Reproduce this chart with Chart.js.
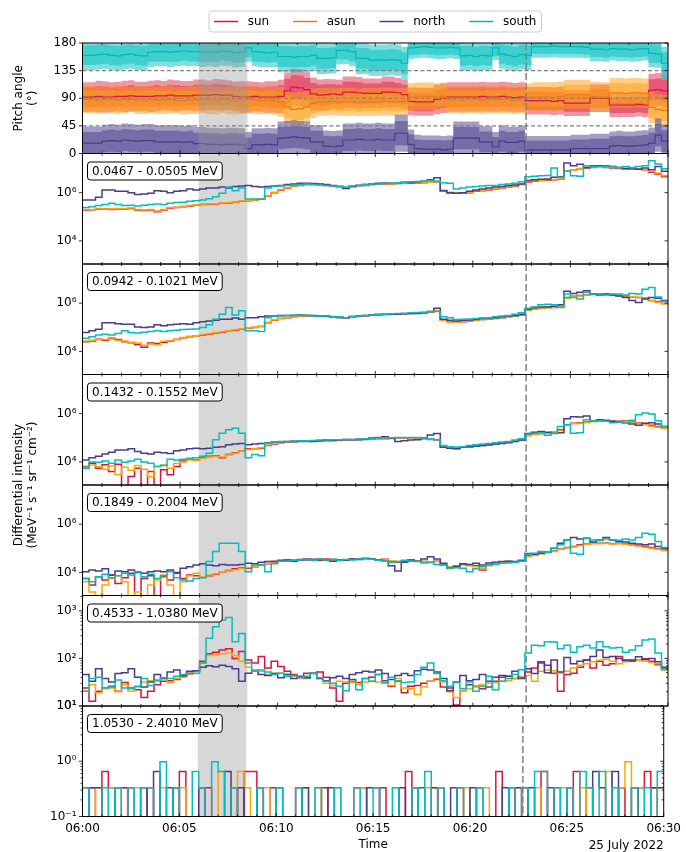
<!DOCTYPE html>
<html>
<head>
<meta charset="utf-8">
<script src="https://cdn.jsdelivr.net/npm/chart.js@4.4.1/dist/chart.umd.min.js"></script>
<style>
  html, body { margin: 0; padding: 0; background: #fff; }
  #wrap { position: relative; width: 686px; height: 852px; }
  #wrap canvas { position: absolute; left: 0; top: 0; }
</style>
</head>
<body>
<div id="wrap"></div>
<script>
// ---- data (20 s bins from 06:00 to 06:30) ----
const binMinutes = 20 / 60;
const eventStart = 5.95, eventEnd = 8.45;   // grey interval, minutes after 06:00
const markerTime = 22.73;                    // dashed line, minutes after 06:00
const timeTicks = [0, 5, 10, 15, 20, 25, 30];
const timeLabels = ['06:00', '06:05', '06:10', '06:15', '06:20', '06:25', '06:30'];
const dateLabel = '25 July 2022';
const sectors = ['sun', 'asun', 'north', 'south'];
const channels = ['0.0467 - 0.0505 MeV', '0.0942 - 0.1021 MeV', '0.1432 - 0.1552 MeV',
                  '0.1849 - 0.2004 MeV', '0.4533 - 1.0380 MeV', '1.0530 - 2.4010 MeV'];
const pitchTicks = [0, 45, 90, 135, 180];
const pitchRefLines = [45, 90, 135];
const lowTicks = [1e4, 1e6];
const lowRange = [1.1e3, 4.2e7];
const midTicks = [1e1, 1e2, 1e3];
const midMinor = [20, 30, 40, 50, 60, 70, 80, 90, 200, 300, 400, 500, 600, 700, 800, 900, 2000];
const midRange = [10, 2.1e3];
const highTicks = [0.1, 1, 10];
const highMinor = [0.2, 0.3, 0.4, 0.5, 0.6, 0.7, 0.8, 0.9, 2, 3, 4, 5, 6, 7, 8, 9];
const highRange = [0.1, 10];

// pitch angle: mean and spread (deg)
const paSunMean = [92,92,93,92,92,93,93,94,93,93, 93,94,94,95,94,94,94,95,95,95, 96,95,95,93,92,92,93,92,92,92,
  93,102,108,107,104,97,95,96,97,96, 100,100,99,98,98,98,100,100,99,96, 85,84,84,84,88,90,92,92,92,92,
  92,93,92,92,93,92,91,92,86,86, 86,86,85,86,82,82,82,82,90,90, 90,79,79,79,79,80,79,103,104,102];
const paSunSig = [16,16,17,17,16,16,17,17,16,16, 17,17,16,17,17,16,16,17,17,16, 17,17,16,16,17,17,16,16,17,17,
  18,20,20,20,19,18,17,17,16,16, 17,17,17,16,16,16,17,17,16,16, 15,15,15,15,16,16,16,16,16,16,
  16,16,16,16,16,16,16,16,15,15, 15,15,15,15,14,14,14,14,15,15, 15,13,13,13,13,13,13,18,18,18];
const paAsunMean = [88,88,87,88,88,87,88,88,87,87, 88,87,87,88,87,86,87,87,88,87, 86,87,87,86,87,88,87,86,87,86,
  84,76,72,73,76,82,84,84,85,84, 84,84,83,84,84,84,85,84,84,85, 92,93,93,93,92,93,88,88,87,88,
  88,87,88,88,88,88,87,88,91,92, 92,92,92,93,96,96,96,96,93,92, 92,99,99,98,99,99,98,75,72,70];
const paAsunSig = [15,15,15,14,15,15,15,14,15,15, 15,15,15,15,14,15,15,15,15,15, 15,14,15,15,15,15,15,15,15,15,
  16,18,18,18,17,16,15,15,15,15, 15,15,15,15,15,15,15,15,15,15, 15,15,15,15,15,15,15,15,15,15,
  15,15,15,15,15,15,15,15,15,16, 16,16,16,16,16,16,16,16,16,16, 16,16,16,16,16,16,16,17,17,17];
const paNorthMean = [17,17,17,20,21,20,22,21,20,21, 21,19,19,19,19,18,19,16,16,15, 15,14,15,15,14,8,14,14,15,14,
  25,26,27,26,25,19,19,12,11,12, 22,22,23,22,22,23,22,22,33,33, 15,8,7,7,7,6,7,25,25,25,
  25,19,19,11,20,18,18,20,6,6, 6,6,6,6,6,8,8,8,8,8, 8,12,13,12,12,13,14,17,30,20];
const paNorthSig = [18,18,18,18,18,18,18,18,18,18, 18,18,18,18,18,18,18,18,18,18, 18,18,18,18,18,18,18,18,18,18,
  18,18,18,18,18,18,18,17,17,17, 18,18,18,18,18,18,18,18,20,20, 16,15,15,15,15,15,15,18,18,18,
  18,17,17,16,17,17,17,17,15,15, 15,15,15,15,15,15,15,15,16,16, 16,16,16,16,16,16,16,17,18,18];
const paSouthMean = [160,160,161,162,160,159,161,162,160,159, 165,166,166,165,166,167,166,166,165,166,
  165,167,166,164,165,172,166,165,164,165, 158,158,157,158,158,160,155,155,156,168,
  168,166,155,155,152,152,152,153,152,147, 172,173,174,173,172,172,173,172,159,160,
  158,160,159,172,162,160,158,161,160,174, 174,174,175,174,174,174,174,173,170,170,
  169,171,170,170,169,170,171,163,162,147];
const paSouthSig = [16,16,16,16,16,16,16,16,16,16, 16,16,16,16,16,16,16,16,16,16, 16,16,16,16,16,15,16,16,16,16,
  17,17,17,17,17,17,17,17,17,15, 15,16,17,17,17,17,17,17,17,18, 12,12,12,12,12,12,12,12,16,16,
  16,16,16,13,16,16,16,16,16,12, 12,12,12,12,12,12,12,12,13,13, 13,13,13,13,13,13,13,15,15,18];

// differential intensity, channel 1 (0.0467 - 0.0505 MeV)
const ch1Sun = [1.9e5,1.95e5,2.1e5,2.1e5,2.0e5,2.1e5,2.1e5,2.2e5,1.9e5,1.8e5, 1.9e5,1.6e5,1.9e5,2.3e5,2.45e5,2.6e5,2.8e5,3.0e5,3.2e5,3.4e5,
  3.4e5,3.6e5,3.6e5,4.0e5,4.4e5,4.6e5,4.9e5,5.3e5,7.3e5,1.0e6, 1.3e6,1.55e6,1.9e6,2.0e6,2.2e6,2.2e6,2.2e6,2.0e6,1.9e6,1.8e6,
  1.55e6,1.8e6,2.0e6,2.0e6,2.2e6,2.3e6,2.3e6,2.3e6,2.4e6,2.45e6, 2.45e6,2.5e6,2.6e6,2.7e6,2.8e6,1.2e6,1.0e6,9.4e5,9.7e5,1.0e6,
  1.15e6,1.2e6,1.3e6,1.4e6,1.55e6,1.7e6,1.9e6,2.2e6,2.7e6,3.0e6, 3.2e6,3.3e6,3.4e6,3.6e6,7.7e6,8.8e6,9.7e6,1.05e7,1.1e7,1.2e7,
  1.1e7,1.05e7,1.0e7,1.0e7,9.4e6,9.7e6,8.8e6,7.0e6,6.0e6,4.6e6];
const ch1Asun = [2.0e5,2.0e5,2.2e5,2.1e5,2.1e5,2.2e5,2.2e5,2.3e5,2.0e5,1.9e5, 2.0e5,1.75e5,2.0e5,2.4e5,2.5e5,2.7e5,2.9e5,3.1e5,3.3e5,3.5e5,
  3.5e5,3.7e5,3.8e5,4.1e5,4.5e5,4.8e5,5.0e5,5.5e5,7.5e5,1.05e6, 1.35e6,1.6e6,1.9e6,2.1e6,2.2e6,2.3e6,2.2e6,2.1e6,1.9e6,1.8e6,
  1.6e6,1.8e6,2.0e6,2.1e6,2.2e6,2.3e6,2.35e6,2.3e6,2.4e6,2.5e6, 2.5e6,2.55e6,2.6e6,2.7e6,2.9e6,1.25e6,1.05e6,9.8e5,1.0e6,1.05e6,
  1.2e6,1.25e6,1.35e6,1.45e6,1.6e6,1.75e6,1.95e6,2.25e6,2.8e6,3.1e6, 3.3e6,3.4e6,3.5e6,3.7e6,8.0e6,9.0e6,1.0e7,1.1e7,1.15e7,1.2e7,
  1.15e7,1.1e7,1.05e7,1.0e7,9.8e6,9.5e6,9.0e6,7.5e6,6.5e6,5.0e6];
const ch1North = [4.9e5,4.9e5,6.5e5,1.3e6,1.3e6,1.15e6,1.15e6,1.0e6,8.3e5,8.8e5, 9.4e5,1.2e6,1.15e6,1.0e6,1.15e6,1.2e6,1.4e6,1.3e6,1.4e6,1.55e6,
  1.55e6,1.7e6,1.55e6,1.8e6,1.9e6,2.0e6,1.8e6,1.7e6,1.8e6,1.9e6, 2.0e6,2.2e6,2.3e6,2.45e6,2.45e6,2.4e6,2.3e6,2.2e6,2.0e6,1.8e6,
  1.5e6,1.8e6,2.0e6,2.2e6,2.3e6,2.45e6,2.5e6,2.45e6,2.6e6,2.7e6, 2.6e6,2.8e6,3.0e6,3.4e6,4.1e6,1.2e6,1.0e6,9.4e5,1.0e6,1.15e6,
  1.3e6,1.4e6,1.55e6,1.7e6,1.8e6,2.0e6,2.1e6,2.3e6,3.2e6,3.4e6, 3.6e6,3.7e6,4.4e6,4.6e6,1.7e7,1.3e7,1.5e7,1.1e7,1.3e7,1.3e7,
  1.3e7,1.2e7,1.1e7,9.7e6,1.05e7,9.4e6,1.05e7,8.8e6,1.2e7,7.7e6];
const ch1South = [2.45e5,2.6e5,2.9e5,3.2e5,3.6e5,3.2e5,2.9e5,3.0e5,2.8e5,3.0e5, 3.2e5,3.4e5,3.2e5,3.6e5,3.9e5,4.0e5,4.4e5,4.6e5,4.9e5,5.6e5,
  6.8e5,9.4e5,1.7e6,1.2e6,1.55e6,5.4e5,5.4e5,5.3e5,1.55e6,1.8e6, 1.9e6,2.0e6,2.1e6,2.2e6,2.3e6,2.2e6,2.1e6,2.0e6,1.9e6,1.8e6,
  1.7e6,1.9e6,2.0e6,2.2e6,2.3e6,2.3e6,2.45e6,2.45e6,2.6e6,2.7e6, 2.8e6,2.9e6,3.0e6,3.2e6,3.0e6,2.6e6,2.45e6,1.4e6,1.55e6,1.7e6,
  1.8e6,1.9e6,2.0e6,2.0e6,2.2e6,2.3e6,2.45e6,2.8e6,4.6e6,4.8e6, 5.0e6,5.2e6,1.05e7,4.4e6,7.7e6,5.0e6,4.8e6,1.3e7,1.2e7,1.2e7,
  1.25e7,1.2e7,1.1e7,1.2e7,1.1e7,1.2e7,1.3e7,2.1e7,1.55e7,9.7e6];

// channel 2 (0.0942 - 0.1021 MeV)
const ch2Sun = [2.5e4,2.7e4,3.2e4,2.9e4,3.5e4,3.1e4,2.5e4,2.3e4,1.95e4,1.5e4, 2.2e4,2.1e4,2.4e4,2.7e4,3.1e4,3.7e4,4.0e4,4.4e4,4.8e4,5.1e4,
  5.8e4,6.2e4,7.1e4,7.5e4,8.3e4,9.1e4,9.8e4,1.07e5,1.55e5,1.96e5, 2.3e5,2.5e5,2.7e5,2.9e5,2.95e5,2.95e5,2.9e5,2.8e5,2.7e5,2.5e5,
  2.4e5,2.7e5,2.9e5,2.95e5,3.16e5,3.25e5,3.4e5,3.5e5,3.5e5,3.6e5, 3.7e5,3.8e5,4.0e5,4.2e5,4.8e5,1.96e5,1.7e5,1.6e5,1.7e5,1.8e5,
  1.96e5,2.1e5,2.15e5,2.3e5,2.5e5,2.7e5,2.9e5,3.25e5,5.1e5,5.8e5, 6.2e5,6.6e5,6.6e5,7.5e5,1.7e6,1.95e6,2.1e6,2.2e6,2.4e6,2.4e6,
  2.4e6,2.2e6,2.1e6,1.95e6,1.8e6,1.7e6,1.6e6,1.3e6,1.17e6,9.7e5];
const ch2Asun = [2.7e4,2.9e4,3.0e4,3.1e4,3.3e4,2.8e4,2.7e4,2.4e4,2.2e4,1.8e4, 2.0e4,1.9e4,2.6e4,2.8e4,3.2e4,3.8e4,4.2e4,4.5e4,5.0e4,5.4e4,
  6.0e4,6.5e4,7.3e4,7.8e4,8.5e4,9.4e4,1.0e5,1.1e5,1.6e5,2.0e5, 2.35e5,2.55e5,2.75e5,2.9e5,3.0e5,3.0e5,2.9e5,2.85e5,2.75e5,2.6e5,
  2.5e5,2.7e5,2.9e5,3.0e5,3.2e5,3.3e5,3.4e5,3.5e5,3.6e5,3.7e5, 3.8e5,3.9e5,4.1e5,4.3e5,4.9e5,1.9e5,1.65e5,1.6e5,1.75e5,1.85e5,
  2.0e5,2.1e5,2.2e5,2.35e5,2.55e5,2.75e5,2.95e5,3.3e5,5.0e5,5.6e5, 6.0e5,6.4e5,6.8e5,7.4e5,1.6e6,1.85e6,2.0e6,2.2e6,2.3e6,2.35e6,
  2.3e6,2.2e6,2.1e6,2.0e6,1.85e6,1.7e6,1.55e6,1.25e6,1.1e6,9.5e5];
const ch2North = [6.0e4,7.1e4,8.3e4,1.55e5,1.55e5,1.4e5,1.33e5,1.33e5,1.03e5,9.8e4, 1.03e5,1.26e5,1.15e5,1.26e5,1.33e5,1.4e5,1.33e5,1.55e5,1.7e5,1.8e5,
  1.96e5,2.15e5,2.15e5,2.4e5,2.15e5,2.5e5,2.5e5,2.7e5,2.9e5,2.95e5, 3.1e5,3.1e5,3.16e5,3.25e5,3.16e5,3.1e5,2.95e5,2.9e5,2.7e5,2.7e5,
  2.5e5,2.8e5,2.95e5,3.1e5,3.25e5,3.4e5,3.5e5,3.5e5,3.5e5,3.6e5, 3.7e5,3.7e5,4.0e5,4.5e5,6.2e5,2.15e5,1.96e5,1.8e5,1.96e5,2.0e5,
  2.15e5,2.3e5,2.4e5,2.5e5,2.7e5,2.9e5,3.1e5,3.5e5,5.6e5,6.6e5, 7.0e5,7.0e5,7.5e5,8.5e5,3.1e6,2.5e6,2.8e6,3.3e6,2.4e6,2.2e6,
  2.4e6,2.2e6,2.0e6,1.7e6,1.3e6,1.07e6,1.5e6,1.7e6,1.6e6,1.3e6];
const ch2South = [3.5e4,4.0e4,4.8e4,5.1e4,4.8e4,5.5e4,7.1e4,6.0e4,5.8e4,6.2e4, 6.6e4,7.1e4,6.6e4,7.1e4,7.5e4,8.0e4,8.3e4,8.5e4,9.8e4,1.26e5,
  2.15e5,3.5e5,6.6e5,3.25e5,4.8e5,7.1e4,7.1e4,6.6e4,2.5e5,2.9e5, 2.95e5,3.1e5,3.1e5,3.16e5,3.1e5,2.95e5,2.9e5,2.9e5,2.8e5,2.7e5,
  2.5e5,2.8e5,2.95e5,3.1e5,3.25e5,3.5e5,3.5e5,3.6e5,3.7e5,3.8e5, 4.0e5,4.1e5,4.2e5,4.5e5,4.5e5,2.7e5,2.5e5,2.1e5,2.15e5,2.2e5,
  2.3e5,2.4e5,2.5e5,2.7e5,2.9e5,3.1e5,3.5e5,4.0e5,6.2e5,7.0e5, 8.5e5,9.1e5,8.5e5,6.6e5,2.4e6,1.7e6,1.5e6,2.8e6,2.4e6,2.4e6,
  2.2e6,2.4e6,2.4e6,2.2e6,2.5e6,2.4e6,3.8e6,4.5e6,1.8e6,1.2e6];

// channel 3 (0.1432 - 0.1552 MeV)
const ch3Sun = [6.5e3,8.8e3,5.5e3,7.6e3,4.0e3,8.0e3,7.0e2,2.5e3,5.5e3,7.0e2, 4.0e3,7.0e2,4.7e3,2.9e3,6.5e3,1.1e4,1.3e4,1.2e4,1.5e4,1.7e4,
  1.8e4,1.5e4,2.0e4,2.4e4,2.9e4,3.5e4,3.5e4,3.7e4,4.8e4,5.5e4, 6.2e4,6.6e4,6.8e4,7.0e4,7.0e4,7.3e4,7.5e4,7.5e4,7.7e4,8.0e4,
  8.0e4,8.3e4,8.3e4,8.5e4,8.8e4,9.1e4,9.1e4,9.4e4,9.7e4,9.7e4, 1.0e5,9.7e4,9.1e4,8.5e4,8.3e4,4.2e4,3.7e4,3.6e4,4.0e4,4.2e4,
  4.5e4,4.8e4,5.1e4,5.5e4,6.2e4,6.6e4,7.5e4,8.3e4,1.26e5,1.4e5, 1.5e5,1.55e5,1.7e5,2.15e5,3.5e5,4.0e5,4.2e5,4.5e5,4.8e5,5.1e5,
  5.3e5,4.8e5,4.8e5,5.1e5,4.5e5,4.1e5,3.7e5,3.3e5,2.95e5,2.5e5];
const ch3Asun = [6.0e3,7.5e3,6.5e3,5.0e3,6.8e3,3.0e3,6.0e3,4.5e3,7.0e3,5.0e3, 2.5e3,6.5e3,7.5e3,5.5e3,8.5e3,1.0e4,1.2e4,1.15e4,1.4e4,1.6e4,
  1.7e4,1.6e4,2.1e4,2.3e4,2.8e4,3.3e4,3.6e4,3.9e4,5.0e4,5.8e4, 6.4e4,6.8e4,7.0e4,7.2e4,7.3e4,7.5e4,7.6e4,7.8e4,8.0e4,8.0e4,
  8.2e4,8.4e4,8.6e4,8.8e4,9.0e4,9.2e4,9.4e4,9.6e4,9.8e4,1.0e5, 1.0e5,9.8e4,9.4e4,8.8e4,8.5e4,4.4e4,3.9e4,3.7e4,4.1e4,4.4e4,
  4.6e4,4.9e4,5.3e4,5.7e4,6.3e4,6.8e4,7.6e4,8.5e4,1.2e5,1.35e5, 1.45e5,1.5e5,1.65e5,2.0e5,3.3e5,3.8e5,4.0e5,4.3e5,4.6e5,4.9e5,
  5.0e5,4.7e5,4.6e5,4.8e5,4.3e5,3.9e5,3.5e5,3.0e5,2.7e5,2.4e5];
const ch3North = [1.2e4,1.5e4,1.7e4,2.1e4,2.5e4,3.1e4,3.1e4,3.5e4,2.7e4,2.3e4, 2.1e4,2.5e4,2.4e4,2.2e4,2.9e4,3.1e4,3.5e4,3.7e4,3.5e4,3.7e4,
  4.0e4,4.2e4,5.1e4,5.5e4,5.8e4,5.1e4,5.5e4,5.8e4,6.2e4,6.6e4, 6.8e4,7.0e4,7.0e4,7.3e4,7.5e4,7.0e4,7.5e4,8.0e4,7.7e4,8.0e4,
  8.5e4,8.3e4,8.5e4,8.8e4,9.7e4,1.03e5,1.1e5,9.7e4,7.0e4,7.5e4, 8.0e4,8.3e4,9.7e4,1.3e5,1.5e5,4.0e4,3.7e4,3.5e4,4.0e4,4.2e4,
  4.5e4,4.8e4,5.1e4,5.5e4,5.8e4,6.2e4,7.0e4,8.0e4,1.5e5,1.7e5, 1.8e5,1.7e5,1.5e5,1.6e5,6.2e5,7.5e5,7.2e5,8.0e5,5.1e5,5.6e5,
  5.1e5,4.8e5,4.5e5,4.2e5,3.7e5,3.3e5,4.0e5,4.2e5,3.7e5,2.95e5];
const ch3South = [5.5e3,1.0e4,9.6e3,1.1e4,8.8e3,1.2e4,9.6e3,1.1e4,1.3e4,1.0e4, 8.8e3,6.5e3,7.0e3,1.3e4,1.2e4,1.3e4,1.4e4,1.5e4,1.7e4,2.3e4,
  8.3e4,1.55e5,2.15e5,2.5e5,1.55e5,1.5e4,2.0e4,1.8e4,6.0e4,6.6e4, 7.0e4,7.0e4,7.3e4,7.5e4,7.5e4,7.7e4,8.0e4,8.0e4,8.3e4,8.3e4,
  8.5e4,8.5e4,8.8e4,9.1e4,9.4e4,9.7e4,1.0e5,1.0e5,1.03e5,1.03e5, 1.03e5,1.03e5,9.7e4,9.1e4,8.3e4,4.8e4,4.2e4,4.1e4,4.2e4,4.8e4,
  5.1e4,5.5e4,5.8e4,6.2e4,6.6e4,7.0e4,8.0e4,9.1e4,1.4e5,1.55e5, 1.6e5,1.26e5,1.55e5,2.95e5,3.5e5,1.55e5,1.6e5,5.6e5,5.1e5,5.1e5,
  4.8e5,4.2e5,4.5e5,4.2e5,5.3e5,9.1e5,1.07e6,9.7e5,5.1e5,2.95e5];

// channel 4 (0.1849 - 0.2004 MeV)
const ch4Sun = [5.6e3,3.0e3,6.6e3,4.8e3,7.7e3,3.5e3,6.0e3,9.1e3,5.0e2,5.6e3, 7.2e3,5.0e2,6.6e3,4.8e3,9.1e3,5.6e3,7.7e3,7.2e3,6.6e3,7.2e3,
  8.3e3,1.07e4,1.2e4,1.4e4,1.55e4,1.5e4,1.7e4,2.0e4,2.3e4,2.6e4, 2.9e4,3.2e4,3.25e4,3.4e4,3.25e4,3.5e4,3.2e4,3.6e4,3.4e4,3.2e4,
  3.25e4,3.6e4,3.5e4,3.8e4,3.6e4,3.25e4,3.5e4,2.8e4,2.6e4,2.9e4, 3.2e4,2.9e4,2.8e4,2.6e4,2.9e4,2.0e4,1.55e4,1.9e4,2.1e4,2.0e4,
  1.9e4,1.25e4,2.0e4,2.4e4,2.6e4,2.8e4,2.6e4,2.9e4,4.9e4,5.3e4, 6.2e4,6.8e4,7.7e4,9.4e4,1.07e5,1.17e5,1.4e5,1.5e5,1.6e5,1.6e5,
  1.65e5,1.55e5,1.6e5,1.5e5,1.4e5,1.3e5,1.17e5,1.07e5,9.4e4,8.5e4];
const ch4Asun = [4.1e3,1.55e3,5.0e2,3.0e3,5.6e3,7.2e3,4.1e3,5.0e2,1.55e3,5.0e2, 3.0e3,4.8e3,7.7e3,3.0e3,5.0e2,4.1e3,7.2e3,9.1e3,6.6e3,7.7e3,
  8.8e3,1.07e4,1.15e4,1.3e4,1.5e4,1.6e4,1.8e4,2.1e4,2.4e4,2.7e4, 3.0e4,3.1e4,3.3e4,3.2e4,3.4e4,3.3e4,3.5e4,3.4e4,3.3e4,3.1e4,
  3.3e4,3.5e4,3.6e4,3.7e4,3.5e4,3.3e4,3.4e4,3.0e4,2.8e4,3.0e4, 3.1e4,3.0e4,2.9e4,2.7e4,2.8e4,2.1e4,1.7e4,1.8e4,2.0e4,1.9e4,
  1.7e4,1.4e4,1.9e4,2.3e4,2.5e4,2.7e4,2.7e4,3.0e4,4.6e4,5.0e4, 5.8e4,6.5e4,7.4e4,9.0e4,1.03e5,1.12e5,1.3e5,1.45e5,1.55e5,1.55e5,
  1.6e5,1.5e5,1.55e5,1.45e5,1.35e5,1.25e5,1.1e5,1.0e5,9.0e4,8.0e4];
const ch4North = [1.07e4,1.25e4,1.15e4,1.4e4,7.7e3,1.15e4,1.07e4,1.25e4,1.0e4,9.1e3, 1.07e4,1.15e4,1.07e4,1.25e4,1.0e4,1.5e4,1.7e4,2.0e4,2.3e4,2.0e4,
  1.9e4,2.1e4,2.0e4,2.0e4,2.1e4,2.4e4,2.3e4,2.6e4,2.8e4,2.9e4, 3.2e4,3.25e4,2.9e4,3.25e4,3.6e4,3.2e4,3.5e4,3.25e4,2.9e4,3.25e4,
  3.2e4,3.6e4,3.4e4,3.8e4,3.6e4,3.25e4,2.9e4,1.9e4,1.15e4,2.6e4, 3.25e4,2.9e4,3.6e4,4.5e4,3.6e4,2.4e4,1.5e4,1.7e4,2.3e4,2.1e4,
  2.4e4,2.0e4,2.45e4,2.6e4,2.8e4,2.9e4,2.8e4,3.2e4,6.0e4,5.6e4, 6.2e4,6.8e4,1.0e5,1.6e5,2.2e5,2.8e5,2.4e5,2.6e5,1.8e5,2.2e5,
  2.8e5,2.2e5,1.9e5,1.8e5,1.6e5,1.5e5,1.4e5,1.5e5,1.17e5,1.0e5];
const ch4South = [5.6e3,4.1e3,6.6e3,8.3e3,6.0e3,7.2e3,9.1e3,7.7e3,1.07e4,6.6e3, 8.3e3,5.6e3,7.2e3,1.07e4,6.0e3,4.8e3,4.4e3,5.6e3,6.0e3,2.8e4,
  7.3e4,1.6e5,1.6e5,1.6e5,7.3e4,1.07e4,2.0e4,2.0e4,1.07e4,2.3e4, 2.9e4,2.9e4,3.2e4,3.25e4,3.4e4,3.2e4,3.6e4,3.25e4,3.5e4,3.2e4,
  3.4e4,3.25e4,3.6e4,3.8e4,3.5e4,3.2e4,2.9e4,2.6e4,2.8e4,3.2e4, 2.9e4,2.8e4,2.45e4,2.6e4,2.1e4,2.0e4,1.5e4,1.55e4,1.5e4,1.07e4,
  1.4e4,1.7e4,2.0e4,2.1e4,2.4e4,2.45e4,2.6e4,2.9e4,5.6e4,6.2e4, 7.3e4,6.8e4,1.0e5,1.4e5,2.2e5,6.2e4,5.6e4,2.6e5,2.2e5,2.15e5,
  2.4e5,2.2e5,2.15e5,2.4e5,2.2e5,2.8e5,4.2e5,3.8e5,1.9e5,1.07e5];

// channel 5 (0.4533 - 1.0380 MeV)
const ch5Sun = [24,12.6,20.5,24,26,20.5,31,24,22,15, 20.5,28,33,34,36,42,49,55,87,125, 135,150,160,100,140,93,80,110,63,87,
  68,54,46,39,49,48,52,40,24,12.6, 30,36,31,38,40,46,34,26,33,19, 26,27,30,33,36,25,24,10.5,20.5,28,
  26,23,25,33,40,42,38,40,52,63, 80,72,49,20.5,46,49,65,93,63,87, 72,77,110,93,87,92,98,87,74,58];
const ch5Asun = [20.5,28,19,23,24,20,28,20.5,25,32, 34,36,38,31,38,40,46,54,80,115, 120,125,130,115,87,65,58,54,46,48,
  49,46,42,40,38,48,38,30,27,33, 32,31,28,32,33,32,30,27,38,24, 23,17.5,25,33,38,32,20,15,20.5,23,
  25,28,30,31,33,34,38,41,44,33, 54,57,55,49,54,63,72,77,85,92, 95,87,77,85,93,90,87,82,77,58];
const ch5North = [46,33,61,38,32,48,50,61,40,25, 32,46,38,52,57,44,54,55,65,70, 67,72,68,61,33,49,54,46,44,48,
  39,46,38,42,39,49,38,34,39,42, 38,46,50,54,52,57,48,36,44,48, 44,55,59,57,52,38,21,32,44,34,
  36,46,33,40,44,42,54,38,61,48, 85,50,93,52,105,77,87,93,110,150, 105,110,100,90,93,108,95,100,85,65];
const ch5South = [20.5,38,40,24,25,35,24,23,26,38, 27,34,39,38,42,46,48,49,80,265, 465,640,720,225,335,80,54,57,52,46,
  49,42,44,40,42,49,39,33,30,26, 21,33,22,38,33,46,31,40,34,31, 32,46,65,80,48,34,26,31,23,32,
  20.5,26,42,22,33,38,46,58,130,190, 185,225,220,160,190,135,175,190,165,225, 175,165,170,135,150,185,245,255,130,61];

// channel 6 (1.0530 - 2.4010 MeV), 0 = no counts
const ch6Sun = [0.33,0.33,0,0.65,0.33,0,0,0.33,0,0, 0.33,0,0,0.33,0,0.65,0,0,0,0.33, 0,0,0,0.33,0,0.65,0.65,0,0,0.33,
  0,0,0,0.33,0,0,0,0.33,0,0, 0,0,0.33,0.33,0,0,0.33,0,0,0, 0.65,0,0.33,0,0,0.33,0,0,0.33,0,
  0,0.33,0,0,0.65,0,0.33,0,0.33,0, 0,0.65,0,0.33,0,0,0.65,0,0.33,0, 0,0,0,0.33,0,0,0.33,0.65,0.33,0];
const ch6Asun = [0,0,0.33,0,0.33,0,0.33,0,0.33,0, 0,0,0.33,0,0,0.33,0,0,0.33,0, 0,0.65,0,0,0.65,0.33,0,0,0.33,0,
  0,0,0,0,0.33,0,0.33,0,0,0.33, 0,0,0,0.33,0,0,0,0,0.33,0, 0,0,0,0.33,0.33,0,0,0,0,0.33,
  0,0,0.33,0,0,0,0,0.33,0,0, 0.33,0,0,0,0.33,0,0,0.33,0,0, 0,0.65,0,0.33,0.98,0,0.33,0,0,0.33];
const ch6North = [0,0.33,0.33,0,0,0.33,0.33,0,0,0.33, 0,0.65,0,0,0.33,0,0,0,0.33,0, 0,0,0.65,0,0.33,0,0,0.33,0,0,
  0.33,0,0,0,0.33,0,0,0,0.33,0, 0,0,0,0,0.33,0.33,0,0,0,0.33, 0,0.33,0,0,0.33,0,0,0.33,0,0,
  0.33,0,0,0,0,0.33,0,0.33,0,0.33, 0,0,0.33,0,0,0.33,0,0,0,0.65, 0.33,0,0.65,0,0,0.33,0,0,0.33,0.33];
const ch6South = [0.33,0,0,0.33,0,0.33,0,0.33,0,0.33, 0.33,0,0.98,0,0.33,0,0,0.65,0.33,0, 0.98,0.65,0,0.33,0,0,0,0.33,0,0,
  0.33,0,0,0.33,0,0,0.33,0,0,0.33, 0,0,0.33,0,0,0.33,0,0,0.33,0, 0,0.33,0,0.65,0,0.33,0,0,0.33,0,
  0,0.33,0,0,0,0,0.33,0,0.33,0, 0.65,0.65,0,0.33,0,0.33,0,0.65,0.33,0, 0.65,0,0.33,0,0,0.33,0,0.33,0,0.65];

// ---- layout and style ----
const W = 686, H = 852;
const plotLeft = 82.5, plotRight = 668;
const edges = [43, 153.5, 264, 374.5, 485, 595.5, 706, 816.5];
const FONT = '12px "DejaVu Sans"';
const lineColors = {sun: '#dc143c', asun: '#ffa500', north: '#483d8b', south: '#00bfbf'};
const meanColors = {sun: '#dc143c', asun: '#f07818', north: '#483d8b', south: '#00b8b8'};
const bandColors = {sun: 'rgba(220,20,60,0.45)', asun: 'rgba(255,160,20,0.5)',
                    north: 'rgba(72,61,139,0.5)', south: 'rgba(0,191,191,0.5)'};

Chart.defaults.font.family = '"DejaVu Sans", sans-serif';
Chart.defaults.font.size = 12;
Chart.defaults.color = '#000';

function sup(n) {
  return String(n).split('').map(c => '⁻⁰¹²³⁴⁵⁶⁷⁸⁹'['-0123456789'.indexOf(c)]).join('');
}
function logLabel(v) { return '10' + sup(Math.round(Math.log10(v))); }

// values held over each bin (steps-post), closed at 06:30
function steps(values, floor) {
  const pts = values.map((v, i) => ({x: i * binMinutes, y: floor === undefined || v > 0 ? v : floor}));
  pts.push({x: values.length * binMinutes, y: pts[pts.length - 1].y});
  return pts;
}

function shade(chart) {
  const {ctx, chartArea: a, scales: {x}} = chart;
  const x0 = x.getPixelForValue(eventStart), x1 = x.getPixelForValue(eventEnd);
  ctx.save();
  ctx.fillStyle = 'rgba(150,150,150,0.38)';
  ctx.fillRect(x0, a.top, x1 - x0, a.bottom - a.top);
  ctx.restore();
}

function roundBox(ctx, x, y, w, h, r) {
  ctx.beginPath();
  if (ctx.roundRect) ctx.roundRect(x, y, w, h, r); else ctx.rect(x, y, w, h);
}

function drawLegend(chart) {
  const {ctx, chartArea: a} = chart;
  const items = chart.data.datasets.filter(d => d.legend);
  ctx.save();
  ctx.font = FONT;
  const handle = 24, gap = 9.6, col = 24, pad = 5;
  const widths = items.map(d => handle + gap + ctx.measureText(d.label).width);
  const total = widths.reduce((s, w) => s + w, 0) + col * (items.length - 1);
  let x = (a.left + a.right) / 2 - total / 2;
  roundBox(ctx, x - pad, 11, total + 2 * pad, 21, 3);
  ctx.fillStyle = 'rgba(255,255,255,0.8)';
  ctx.fill();
  ctx.strokeStyle = '#cccccc';
  ctx.lineWidth = 1;
  ctx.stroke();
  ctx.textBaseline = 'middle';
  items.forEach((d, i) => {
    ctx.strokeStyle = d.borderColor;
    ctx.lineWidth = 1.5;
    ctx.beginPath();
    ctx.moveTo(x, 21.5);
    ctx.lineTo(x + handle, 21.5);
    ctx.stroke();
    ctx.fillStyle = '#000';
    ctx.fillText(d.label, x + handle + gap, 21.5);
    x += widths[i] + col;
  });
  ctx.restore();
}

const decoPlugin = {
  id: 'deco',
  beforeDatasetsDraw(chart, args, opts) {
    if (!opts.shadeOnTop) shade(chart);
  },
  afterDatasetsDraw(chart, args, opts) {
    const {ctx, chartArea: a, scales: {x, y}} = chart;
    if (opts.shadeOnTop) shade(chart);
    ctx.save();
    ctx.strokeStyle = '#808080';
    if (opts.refLines) {
      ctx.lineWidth = 1.2;
      ctx.setLineDash([4, 2.5]);
      opts.refLines.forEach(v => {
        const py = y.getPixelForValue(v);
        ctx.beginPath(); ctx.moveTo(a.left, py); ctx.lineTo(a.right, py); ctx.stroke();
      });
    }
    const px = x.getPixelForValue(markerTime);
    ctx.lineWidth = 1.5;
    ctx.setLineDash([7, 3]);
    ctx.beginPath(); ctx.moveTo(px, a.top); ctx.lineTo(px, a.bottom); ctx.stroke();
    ctx.restore();
  },
  afterDraw(chart, args, opts) {
    const {ctx, chartArea: a, scales: {x, y}} = chart;
    ctx.save();
    // axes box
    ctx.strokeStyle = '#000';
    ctx.lineWidth = 1;
    ctx.strokeRect(a.left, a.top, a.right - a.left, a.bottom - a.top);
    // tick marks: x inward top and bottom, y outward left and inward right
    ctx.lineWidth = 0.8;
    ctx.beginPath();
    for (let m = 0; m <= 30; m++) {
      const px = x.getPixelForValue(m), len = m % 5 === 0 ? 3.5 : 2;
      ctx.moveTo(px, a.top); ctx.lineTo(px, a.top + len);
      ctx.moveTo(px, a.bottom); ctx.lineTo(px, a.bottom - len);
    }
    const yt = y.ticks.map(t => [t.value, 3.5]).concat((opts.minor || []).map(v => [v, 2]));
    yt.forEach(([v, len]) => {
      const py = y.getPixelForValue(v);
      ctx.moveTo(a.left, py); ctx.lineTo(a.left - len, py);
      ctx.moveTo(a.right, py); ctx.lineTo(a.right - len, py);
    });
    ctx.stroke();
    // energy label box
    ctx.font = FONT;
    if (opts.label) {
      const tw = ctx.measureText(opts.label).width;
      const bx = a.left + 5, by = a.top + 8.5, bw = tw + 9, bh = 18;
      roundBox(ctx, bx, by, bw, bh, 3);
      ctx.fillStyle = '#fff';
      ctx.fill();
      ctx.lineWidth = 1;
      ctx.stroke();
      ctx.fillStyle = '#000';
      ctx.textBaseline = 'middle';
      ctx.fillText(opts.label, bx + 4.5, by + bh / 2 + 0.5);
    }
    if (opts.legendBox) drawLegend(chart);
    if (opts.bottom) {
      ctx.fillStyle = '#000';
      ctx.textBaseline = 'middle';
      ctx.textAlign = 'right';
      ctx.fillText(dateLabel, a.right, 845.5);
      // shared y title of the intensity panels
      ctx.textAlign = 'center';
      ctx.translate(0, (edges[1] + edges[7]) / 2);
      ctx.rotate(-Math.PI / 2);
      ctx.fillText('Differential intensity', 0, 18.5);
      ctx.fillText('(MeV' + sup(-1) + ' s' + sup(-1) + ' sr' + sup(-1) + ' cm' + sup(-2) + ')', 0, 32.9);
    }
    ctx.restore();
  }
};

function xAxis(show) {
  return {
    type: 'linear', min: 0, max: 30, display: show,
    grid: {display: false, drawTicks: false}, border: {display: false},
    ticks: {padding: 5, autoSkip: false, maxRotation: 0, callback: (v, i) => timeLabels[i]},
    afterBuildTicks: s => { s.ticks = timeTicks.map(v => ({value: v})); },
    afterFit: s => { if (show) s.height = H - edges[7]; },
    title: {display: show, text: 'Time', padding: 0}
  };
}

function yAxis(type, range, ticks, fmt, title) {
  return {
    type: type, min: range[0], max: range[1], position: 'left',
    grid: {display: false, drawTicks: false}, border: {display: false},
    ticks: {padding: 6, autoSkip: false, callback: fmt},
    afterBuildTicks: s => { s.ticks = ticks.map(v => ({value: v})); },
    afterFit: s => { s.width = plotLeft; },
    title: title || {display: false}
  };
}

const wrap = document.getElementById('wrap');
function makeCanvas() {
  const c = document.createElement('canvas');
  c.width = W; c.height = H;
  c.style.width = W + 'px'; c.style.height = H + 'px';
  wrap.appendChild(c);
  return c;
}

function panel(k, datasets, yCfg, deco) {
  const last = k === 6;
  return new Chart(makeCanvas(), {
    type: 'line',
    data: {datasets: datasets},
    options: {
      responsive: false, animation: false, events: [],
      layout: {padding: {left: 0, right: W - plotRight, top: edges[k], bottom: last ? 0 : H - edges[k + 1]}},
      elements: {point: {radius: 0}},
      plugins: {legend: {display: false}, tooltip: {enabled: false}, deco: deco},
      scales: {x: xAxis(last), y: yCfg}
    },
    plugins: [decoPlugin]
  });
}

// ---- pitch angle panel ----
const pitchSeries = [['sun', paSunMean, paSunSig], ['asun', paAsunMean, paAsunSig],
                     ['north', paNorthMean, paNorthSig], ['south', paSouthMean, paSouthSig]];
const pitchSets = [];
pitchSeries.forEach(([name, mean, sig]) => {
  [1.5, 1].forEach(k => {
    pitchSets.push({data: steps(mean.map((m, i) => m + k * sig[i])), fill: '+1',
      backgroundColor: bandColors[name], borderWidth: 0, stepped: true, pointRadius: 0});
    pitchSets.push({data: steps(mean.map((m, i) => m - k * sig[i])), fill: false,
      borderWidth: 0, stepped: true, pointRadius: 0});
  });
});
pitchSeries.forEach(([name, mean]) => {
  pitchSets.push({label: name, legend: true, data: steps(mean), borderColor: meanColors[name],
    borderWidth: 1.2, stepped: true, pointRadius: 0, fill: false});
});
pitchSets.forEach((d, i) => { d.order = pitchSets.length - i; });

panel(0, pitchSets,
  yAxis('linear', [0, 180], pitchTicks, v => String(v),
        {display: true, text: ['Pitch angle', '(°)'], padding: {top: 11.3, bottom: 0}}),
  {shadeOnTop: true, refLines: pitchRefLines, legendBox: true});

// ---- intensity panels ----
function intensitySets(series) {
  return sectors.map((name, j) => ({
    label: name, data: steps(series[j], 1e-3), borderColor: lineColors[name], borderWidth: 1.5,
    stepped: true, pointRadius: 0, fill: false, order: 4 - j
  }));
}

panel(1, intensitySets([ch1Sun, ch1Asun, ch1North, ch1South]),
  yAxis('logarithmic', lowRange, lowTicks, logLabel), {label: channels[0]});
panel(2, intensitySets([ch2Sun, ch2Asun, ch2North, ch2South]),
  yAxis('logarithmic', lowRange, lowTicks, logLabel), {label: channels[1]});
panel(3, intensitySets([ch3Sun, ch3Asun, ch3North, ch3South]),
  yAxis('logarithmic', lowRange, lowTicks, logLabel), {label: channels[2]});
panel(4, intensitySets([ch4Sun, ch4Asun, ch4North, ch4South]),
  yAxis('logarithmic', lowRange, lowTicks, logLabel), {label: channels[3]});
panel(5, intensitySets([ch5Sun, ch5Asun, ch5North, ch5South]),
  yAxis('logarithmic', midRange, midTicks, logLabel), {label: channels[4], minor: midMinor});
panel(6, intensitySets([ch6Sun, ch6Asun, ch6North, ch6South]),
  yAxis('logarithmic', highRange, highTicks, logLabel), {label: channels[5], minor: highMinor, bottom: true});
</script>
</body>
</html>
